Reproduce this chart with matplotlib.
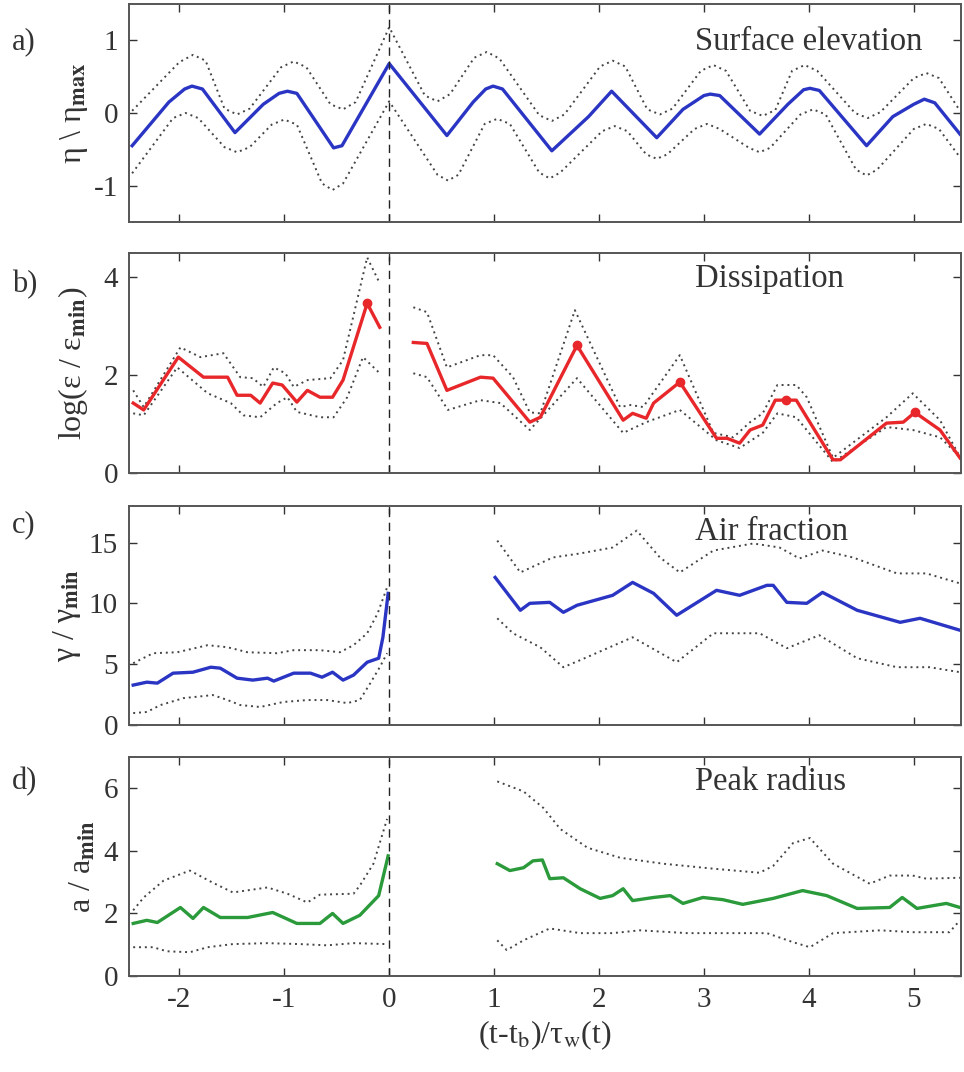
import matplotlib
matplotlib.use("Agg")
import matplotlib.pyplot as plt

plt.rcParams['font.family'] = ['Liberation Serif', 'DejaVu Serif']
plt.rcParams['mathtext.fontset'] = 'stix'
plt.rcParams['axes.unicode_minus'] = False

# a) surface elevation
a_mean_x = [-2.45, -2.1, -1.95, -1.88, -1.78, -1.47, -1.2, -1.05, -0.97, -0.88, -0.53, -0.45, 0.0, 0.55, 0.8, 0.92, 0.99, 1.08, 1.55, 1.9, 2.12, 2.55, 2.8, 3.0, 3.06, 3.15, 3.53, 3.8, 3.95, 4.01, 4.1, 4.55, 4.8, 5.0, 5.1, 5.2, 5.44]
a_mean_y = [-0.45, 0.15, 0.33, 0.37, 0.33, -0.27, 0.12, 0.27, 0.30, 0.27, -0.48, -0.45, 0.68, -0.31, 0.15, 0.33, 0.37, 0.33, -0.52, -0.05, 0.30, -0.34, 0.05, 0.24, 0.26, 0.24, -0.29, 0.12, 0.32, 0.34, 0.31, -0.45, -0.05, 0.12, 0.19, 0.14, -0.29]
a_up_x = [-2.45, -2.0, -1.87, -1.75, -1.57, -1.45, -1.33, -1.03, -0.91, -0.79, -0.56, -0.44, -0.32, 0.0, 0.34, 0.46, 0.58, 0.81, 0.93, 1.05, 1.43, 1.55, 1.67, 2.01, 2.13, 2.25, 2.46, 2.58, 2.70, 2.97, 3.09, 3.21, 3.44, 3.56, 3.68, 3.84, 3.96, 4.08, 4.44, 4.56, 4.68, 5.0, 5.12, 5.24, 5.44]
a_up_y = [0.03, 0.70, 0.80, 0.72, 0.06, -0.02, 0.06, 0.63, 0.71, 0.63, 0.12, 0.05, 0.15, 1.18, 0.24, 0.16, 0.26, 0.76, 0.84, 0.75, -0.03, -0.11, -0.02, 0.64, 0.72, 0.64, 0.05, -0.02, 0.06, 0.58, 0.66, 0.58, 0.03, -0.04, 0.04, 0.58, 0.66, 0.58, 0.0, -0.07, 0.01, 0.48, 0.55, 0.48, 0.03]
a_lo_x = [-2.45, -2.06, -1.94, -1.82, -1.57, -1.45, -1.33, -1.12, -1.0, -0.88, -0.64, -0.54, -0.44, 0.0, 0.46, 0.56, 0.66, 0.91, 1.03, 1.15, 1.43, 1.53, 1.63, 2.03, 2.15, 2.27, 2.45, 2.55, 2.65, 2.91, 3.03, 3.15, 3.43, 3.53, 3.63, 3.92, 4.04, 4.16, 4.45, 4.55, 4.65, 5.0, 5.12, 5.24, 5.44]
a_lo_y = [-0.83, -0.07, 0.0, -0.07, -0.47, -0.54, -0.47, -0.16, -0.09, -0.16, -0.97, -1.06, -0.97, 0.16, -0.85, -0.93, -0.85, -0.15, -0.08, -0.15, -0.82, -0.90, -0.82, -0.25, -0.18, -0.25, -0.57, -0.63, -0.57, -0.22, -0.15, -0.22, -0.48, -0.54, -0.48, -0.02, 0.05, -0.02, -0.78, -0.86, -0.78, -0.22, -0.15, -0.22, -0.61]

# b) dissipation (two segments: before and after breaking)
b1_mean_x = [-2.44, -2.34, -2.01, -1.77, -1.54, -1.45, -1.32, -1.23, -1.11, -1.02, -0.88, -0.78, -0.66, -0.54, -0.44, -0.21, -0.09]
b1_mean_y = [1.43, 1.29, 2.37, 1.96, 1.96, 1.59, 1.59, 1.43, 1.84, 1.80, 1.45, 1.69, 1.55, 1.55, 1.90, 3.47, 2.98]
b1_up_x = [-2.44, -2.34, -1.99, -1.8, -1.58, -1.42, -1.3, -1.2, -1.1, -0.99, -0.91, -0.78, -0.56, -0.44, -0.21, -0.09]
b1_up_y = [1.69, 1.35, 2.57, 2.37, 2.45, 1.96, 1.94, 1.76, 2.16, 2.04, 1.76, 1.90, 1.94, 2.31, 4.41, 3.88]
b1_lo_x = [-2.44, -2.34, -2.02, -1.73, -1.51, -1.39, -1.23, -1.07, -0.97, -0.88, -0.66, -0.53, -0.4, -0.25, -0.09]
b1_lo_y = [1.22, 1.18, 2.16, 1.63, 1.43, 1.18, 1.14, 1.43, 1.55, 1.25, 1.14, 1.14, 1.55, 2.37, 2.04]
b2_mean_x = [0.23, 0.36, 0.55, 0.87, 0.99, 1.34, 1.44, 1.79, 2.23, 2.32, 2.45, 2.52, 2.77, 3.12, 3.22, 3.34, 3.44, 3.56, 3.68, 3.78, 3.88, 3.98, 4.23, 4.30, 4.74, 4.90, 5.01, 5.25, 5.44]
b2_mean_y = [2.67, 2.65, 1.69, 1.96, 1.94, 1.04, 1.14, 2.61, 1.08, 1.22, 1.12, 1.43, 1.86, 0.71, 0.71, 0.61, 0.88, 0.98, 1.49, 1.49, 1.49, 1.14, 0.27, 0.27, 1.02, 1.04, 1.24, 0.88, 0.31]
b2_up_x = [0.23, 0.36, 0.55, 0.87, 0.99, 1.18, 1.34, 1.44, 1.77, 2.2, 2.3, 2.42, 2.77, 3.09, 3.28, 3.44, 3.56, 3.7, 3.88, 3.98, 4.23, 4.74, 4.99, 5.25, 5.44]
b2_up_y = [3.39, 3.29, 2.16, 2.41, 2.41, 1.96, 1.24, 1.22, 3.33, 1.35, 1.39, 1.35, 2.41, 0.82, 0.73, 1.04, 1.22, 1.80, 1.80, 1.55, 0.31, 1.14, 1.63, 1.08, 0.33]
b2_lo_x = [0.23, 0.36, 0.56, 0.87, 1.06, 1.34, 1.79, 2.23, 2.45, 2.77, 3.12, 3.34, 3.56, 3.7, 3.88, 4.23, 4.74, 4.99, 5.25, 5.44]
b2_lo_y = [2.04, 1.96, 1.29, 1.49, 1.43, 0.88, 1.94, 0.82, 1.04, 1.29, 0.67, 0.51, 0.82, 1.22, 1.14, 0.22, 0.94, 0.88, 0.73, 0.33]
b1_peaks = [15]
b2_peaks = [7, 12, 19, 26]

# c) air fraction
c1_mean_x = [-2.44, -2.31, -2.21, -2.06, -1.87, -1.7, -1.61, -1.45, -1.3, -1.16, -1.1, -0.91, -0.75, -0.64, -0.54, -0.44, -0.34, -0.21, -0.1, -0.06, -0.01]
c1_mean_y = [3.28, 3.52, 3.44, 4.26, 4.34, 4.75, 4.67, 3.85, 3.69, 3.85, 3.61, 4.26, 4.26, 3.93, 4.34, 3.69, 4.10, 5.16, 5.49, 7.21, 10.82]
c1_up_x = [-2.44, -2.25, -2.02, -1.73, -1.54, -1.35, -1.07, -0.91, -0.66, -0.47, -0.34, -0.21, -0.11, -0.02]
c1_up_y = [5.08, 5.90, 5.98, 6.56, 6.39, 5.98, 5.90, 6.15, 6.15, 5.98, 6.56, 7.54, 9.18, 11.31]
c1_lo_x = [-2.44, -2.31, -2.18, -1.96, -1.68, -1.54, -1.42, -1.23, -1.01, -0.78, -0.59, -0.4, -0.28, -0.18, -0.09, -0.02]
c1_lo_y = [0.98, 1.07, 1.64, 2.21, 2.46, 2.05, 1.64, 1.48, 1.89, 2.05, 2.05, 1.80, 2.05, 3.44, 4.75, 5.90]
c2_mean_x = [1.01, 1.25, 1.34, 1.53, 1.66, 1.79, 2.13, 2.32, 2.52, 2.74, 3.12, 3.34, 3.60, 3.66, 3.79, 3.98, 4.13, 4.46, 4.87, 5.06, 5.44]
c2_mean_y = [12.13, 9.43, 10.0, 10.08, 9.26, 9.84, 10.66, 11.72, 10.82, 9.02, 11.07, 10.66, 11.48, 11.48, 10.08, 10.0, 10.9, 9.43, 8.44, 8.77, 7.79]
c2_up_x = [1.03, 1.25, 1.56, 1.82, 2.13, 2.36, 2.58, 2.77, 3.09, 3.47, 3.72, 3.91, 4.13, 4.42, 4.84, 5.12, 5.44]
c2_up_y = [15.16, 12.54, 13.77, 14.1, 14.59, 15.98, 13.77, 12.54, 14.34, 14.92, 14.59, 13.69, 14.34, 13.77, 12.46, 12.46, 11.64]
c2_lo_x = [1.03, 1.18, 1.44, 1.66, 1.82, 2.32, 2.74, 3.09, 3.53, 3.79, 4.1, 4.46, 4.84, 5.15, 5.44]
c2_lo_y = [8.77, 7.54, 6.39, 4.75, 5.33, 7.21, 5.16, 7.54, 7.54, 6.31, 7.38, 5.49, 4.75, 4.75, 4.34]

# d) peak radius
d1_mean_x = [-2.44, -2.31, -2.21, -1.99, -1.87, -1.77, -1.61, -1.35, -1.11, -0.88, -0.66, -0.54, -0.44, -0.28, -0.1, -0.01]
d1_mean_y = [1.68, 1.78, 1.71, 2.19, 1.84, 2.19, 1.87, 1.87, 2.03, 1.68, 1.68, 2.0, 1.68, 1.94, 2.57, 3.84]
d1_up_x = [-2.44, -2.34, -2.15, -1.9, -1.68, -1.49, -1.16, -0.97, -0.78, -0.66, -0.34, -0.28, -0.15, -0.02]
d1_up_y = [2.10, 2.51, 3.05, 3.37, 2.98, 2.67, 2.83, 2.63, 2.35, 2.60, 2.63, 2.89, 3.59, 5.02]
d1_lo_x = [-2.44, -2.25, -2.12, -1.9, -1.73, -1.49, -1.16, -0.85, -0.59, -0.34, -0.02]
d1_lo_y = [0.92, 0.92, 0.79, 0.76, 0.92, 1.02, 1.05, 1.02, 0.98, 1.05, 1.02]
d2_mean_x = [1.03, 1.15, 1.28, 1.37, 1.46, 1.53, 1.66, 1.82, 2.01, 2.13, 2.23, 2.32, 2.52, 2.68, 2.80, 2.99, 3.18, 3.37, 3.66, 3.94, 4.17, 4.46, 4.77, 4.89, 5.03, 5.31, 5.44]
d2_mean_y = [3.59, 3.37, 3.46, 3.68, 3.71, 3.11, 3.14, 2.79, 2.48, 2.57, 2.79, 2.41, 2.51, 2.57, 2.32, 2.51, 2.44, 2.29, 2.48, 2.73, 2.57, 2.16, 2.19, 2.51, 2.16, 2.32, 2.19]
d2_up_x = [1.03, 1.28, 1.47, 1.63, 1.89, 2.2, 2.61, 3.09, 3.53, 3.66, 3.85, 4.01, 4.23, 4.58, 4.77, 4.99, 5.12, 5.44]
d2_up_y = [6.22, 5.90, 5.37, 4.70, 4.10, 3.78, 3.59, 3.43, 3.30, 3.52, 4.25, 4.41, 3.59, 2.95, 3.21, 3.21, 3.11, 3.14]
d2_lo_x = [1.03, 1.12, 1.28, 1.53, 1.82, 2.13, 2.39, 2.84, 3.6, 3.85, 4.01, 4.23, 4.68, 4.99, 5.34, 5.44]
d2_lo_y = [1.14, 0.83, 1.14, 1.52, 1.37, 1.37, 1.46, 1.37, 1.37, 1.08, 0.92, 1.37, 1.46, 1.40, 1.40, 1.78]

titles = ['Surface elevation', 'Dissipation', 'Air fraction', 'Peak radius']
letters = ['a)', 'b)', 'c)', 'd)']
ylabels = [r'η \ η$_{\mathbf{max}}$', r'log(ε / ε$_{\mathbf{min}}$)',
           r'γ / γ$_{\mathbf{min}}$', r'a / a$_{\mathbf{min}}$']

blue = '#2a35c4'
red = '#e8272a'
green = '#2a9a3a'
dotc = '#444444'

fig = plt.figure(figsize=(9.64, 10.72), dpi=100)
H = 1072.0
W = 964.0
boxes = [(4, 222), (253, 473), (506, 725), (757, 976)]
axes = []
for top, bot in boxes:
    ax = fig.add_axes([129 / W, 1 - bot / H, (961 - 129) / W, (bot - top) / H])
    axes.append(ax)

segments = [
    [(a_mean_x, a_mean_y, a_up_x, a_up_y, a_lo_x, a_lo_y, blue)],
    [(b1_mean_x, b1_mean_y, b1_up_x, b1_up_y, b1_lo_x, b1_lo_y, red),
     (b2_mean_x, b2_mean_y, b2_up_x, b2_up_y, b2_lo_x, b2_lo_y, red)],
    [(c1_mean_x, c1_mean_y, c1_up_x, c1_up_y, c1_lo_x, c1_lo_y, blue),
     (c2_mean_x, c2_mean_y, c2_up_x, c2_up_y, c2_lo_x, c2_lo_y, blue)],
    [(d1_mean_x, d1_mean_y, d1_up_x, d1_up_y, d1_lo_x, d1_lo_y, green),
     (d2_mean_x, d2_mean_y, d2_up_x, d2_up_y, d2_lo_x, d2_lo_y, green)],
]
ylims = [(-1.5, 1.5), (0, 4.5), (0, 18), (0, 7)]
yticks = [[-1, 0, 1], [0, 2, 4], [0, 5, 10, 15], [0, 2, 4, 6]]
title_y = [0.789, 0.845, 0.845, 0.849]
letter_y = [0.826, 0.855, 0.913, 0.886]
label_x = [-0.047, -0.047, -0.055, -0.038]

for i, ax in enumerate(axes):
    for mx, my, ux, uy, lx, ly, col in segments[i]:
        ax.plot(ux, uy, ls=(0, (1, 2)), color=dotc, lw=1.4)
        ax.plot(lx, ly, ls=(0, (1, 2)), color=dotc, lw=1.4)
        ax.plot(mx, my, '-', color=col, lw=2.4)
    ax.axvline(0, color='#222222', lw=1.0, ls=(0, (6, 4)))
    ax.set_xlim(-2.48, 5.45)
    ax.set_ylim(*ylims[i])
    ax.set_yticks(yticks[i])
    ax.set_xticks(range(-2, 6))
    ax.tick_params(direction='in', top=True, right=True, length=6, width=1,
                   labelsize=21, colors='#333333', pad=8)
    if i < 3:
        ax.set_xticklabels([])
    for s in ax.spines.values():
        s.set_color('#555555')
        s.set_linewidth(1.4)
    ax.text(0.680, title_y[i], titles[i], transform=ax.transAxes, fontsize=23.5,
            color='#333333', va='baseline', ha='left')
    ax.text(-0.141, letter_y[i], letters[i], transform=ax.transAxes, fontsize=22,
            color='#333333', va='center', ha='left')
    ax.set_ylabel(ylabels[i], fontsize=23, color='#333333')
    ax.yaxis.set_label_coords(label_x[i], 0.5)

# peak markers on dissipation
axes[1].plot([b1_mean_x[k] for k in b1_peaks], [b1_mean_y[k] for k in b1_peaks],
             'o', color=red, ms=6)
axes[1].plot([b2_mean_x[k] for k in b2_peaks], [b2_mean_y[k] for k in b2_peaks],
             'o', color=red, ms=6)

axes[3].set_xlabel(r'(t-t$_{\mathrm{b}}$)/τ$_{\mathrm{w}}$(t)', fontsize=23,
                   color='#333333', labelpad=4)

fig.savefig('out.png', dpi=100)
